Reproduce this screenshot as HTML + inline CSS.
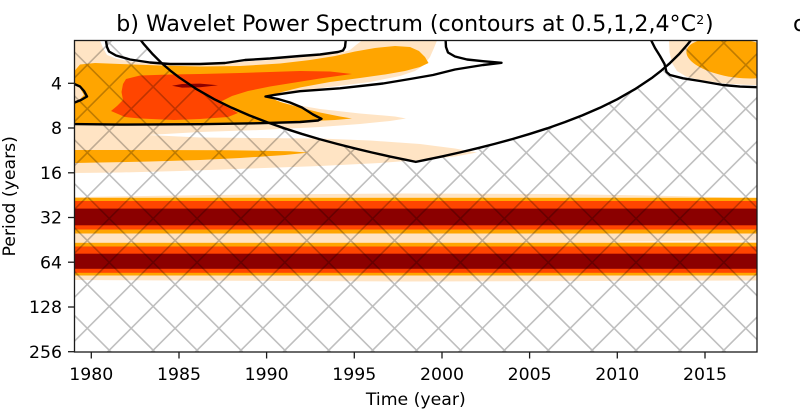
<!DOCTYPE html>
<html>
<head>
<meta charset="utf-8">
<style>
html,body{margin:0;padding:0;background:#fff;}
svg{display:block;}
</style>
</head>
<body>
<svg width="800" height="412" viewBox="0 0 800 412" xmlns="http://www.w3.org/2000/svg" font-family="'DejaVu Sans', 'Liberation Sans', sans-serif">
<defs>
  <clipPath id="ax"><rect x="74.5" y="40.5" width="682.5" height="311.5"/></clipPath>
  <clipPath id="hc"><path d="M74.5,352 L74.5,40.5 L141.4,40.5 L144.1,44.48 L152.9,54.41 L161.6,63.04 L170.4,70.64 L179.2,77.44 L196.7,89.21 L214.2,99.15 L231.8,107.77 L249.3,115.37 L266.8,122.17 L284.4,128.32 L301.9,133.94 L319.4,139.11 L337,143.88 L354.5,148.33 L372,152.5 L389.5,156.41 L407.1,160.1 L415.8,161.87 L424.6,160.1 L442.1,156.41 L459.6,152.5 L477.2,148.33 L494.7,143.88 L512.2,139.11 L529.7,133.94 L547.3,128.32 L564.8,122.17 L582.3,115.37 L599.9,107.77 L617.4,99.15 L634.9,89.21 L652.5,77.44 L661.2,70.64 L670,63.04 L678.8,54.41 L687.5,44.48 L690.3,40.5 L757,40.5 L757,352 Z"/></clipPath>
</defs>
<rect x="0" y="0" width="800" height="412" fill="#ffffff"/>

<g clip-path="url(#ax)">
  <!-- bisque regions -->
  <path fill="#ffe4c4" d="M74.5,40.5 L100,40.5 L103,48 L107,55 L116,58.5 L130,61.5 L150,63.5 L200,65 L225,64 L245,61.5 L270,60 L300,57.5 L338,53.5 L350,50 L356,45 L362,40.5 L437,40.5 L434,48 L430,57 L424,65 L415,71 L400,76 L370,82 L330,87 L300,91 L280,94 L263,97 L285,103 L320,109 L360,113.5 L395,116.5 L406,118.5 L390,121 L360,124 L320,127 L260,130 L200,132 L148,135 L200,137.5 L260,138 L320,138.5 L370,140.5 L420,144 L455,148.5 L477,152.5 L455,156.5 L420,160 L380,163 L320,166 L250,168.5 L180,171 L120,172.5 L74.5,173 Z"/>
  <path fill="#ffe4c4" d="M669,40.5 L669.5,52 L672,63 L677,71 L686,76.5 L700,80 L720,83 L740,84.5 L757,85.3 L757,40.5 Z"/>
  <path fill="#ffe4c4" d="M74.5,197 L250,194.5 L400,193.5 L550,194 L650,195.5 L757,198 L757,280.5 L400,281.5 L74.5,280 Z"/>

  <!-- orange -->
  <path fill="#ffa500" d="M74.5,71 L80,64.5 L95,63 L120,64 L160,65.5 L200,66.5 L240,66 L280,63.5 L310,60 L335,56 L355,51.5 L375,48 L395,46 L410,47 L419,51 L425,57 L428.5,63 L420,67 L405,71 L385,74.5 L360,78 L330,82 L300,87.5 L282,92 L268,97 L282,102.5 L300,107.5 L320,112.5 L340,116.5 L352,118.5 L335,120 L300,121.5 L250,122.5 L180,123.5 L120,123.5 L74.5,124 Z"/>
  <path fill="#ffa500" d="M74.5,150 L150,150 L230,150.3 L290,151.2 L308,152.6 L285,155 L240,158 L200,160 L150,161.5 L100,162.5 L74.5,163 Z"/>
  <ellipse fill="#ffa500" cx="736" cy="58" rx="50" ry="19.5" transform="rotate(8 736 58)"/>
  <rect fill="#ffa500" x="74.5" y="197.8" width="682.5" height="35.7"/>
  <rect fill="#ffa500" x="74.5" y="242.8" width="682.5" height="32.7"/>
  <!-- bump bisque -->
  <path fill="#ffe4c4" d="M74.5,84 L79,86.5 L84,95 L79.5,99.5 L74.5,102 Z"/>
  <!-- thin light stripe between bands on right -->
  <path fill="#fff4ea" d="M620,241.3 L757,240.3 L757,242.3 L620,241.9 Z"/>

  <!-- orangered -->
  <path fill="#ff4500" d="M126,79 L140,75.5 L170,74.5 L200,74 L240,73 L270,72 L300,71 L330,71.5 L352,74 L323,78 L295,82.5 L270,86.5 L248,91 L232,96 L219,102.5 L231,109 L238,113 L228,117 L200,119 L174,120 L140,118.5 L125,117 L111,111 L117,106 L123,100 L121.5,92 L123,84 Z"/>
  <rect fill="#ff4500" x="74.5" y="201" width="682.5" height="28.5"/>
  <rect fill="#ff4500" x="74.5" y="246.5" width="682.5" height="26.3"/>

  <!-- darkred -->
  <path fill="#8b0000" d="M172,85.8 L182,84 L200,83.6 L218,85.3 L200,87.2 L182,87.6 Z"/>
  <rect fill="#8b0000" x="74.5" y="208.6" width="682.5" height="16.7"/>
  <rect fill="#8b0000" x="74.5" y="253.7" width="682.5" height="15.1"/>

  <!-- hatch -->
  <g clip-path="url(#hc)">
    <g opacity="0.25">
      <path fill="none" stroke="#000" stroke-width="1.6" d="M-251.7,360L78.3,30 M-207.8,360L122.2,30 M-163.9,360L166.1,30 M-120,360L210,30 M-76.1,360L253.9,30 M-32.2,360L297.8,30 M11.7,360L341.7,30 M55.6,360L385.6,30 M99.5,360L429.5,30 M143.4,360L473.4,30 M187.3,360L517.3,30 M231.2,360L561.2,30 M275.1,360L605.1,30 M319,360L649,30 M362.9,360L692.9,30 M406.8,360L736.8,30 M450.7,360L780.7,30 M494.6,360L824.6,30 M538.5,360L868.5,30 M582.4,360L912.4,30 M626.3,360L956.3,30 M670.2,360L1000.2,30 M714.1,360L1044.1,30 M758,360L1088,30 M-254.9,30L75.1,360 M-211,30L119,360 M-167.1,30L162.9,360 M-123.2,30L206.8,360 M-79.3,30L250.7,360 M-35.4,30L294.6,360 M8.5,30L338.5,360 M52.4,30L382.4,360 M96.3,30L426.3,360 M140.2,30L470.2,360 M184.1,30L514.1,360 M228,30L558,360 M271.9,30L601.9,360 M315.8,30L645.8,360 M359.7,30L689.7,360 M403.6,30L733.6,360 M447.5,30L777.5,360 M491.4,30L821.4,360 M535.3,30L865.3,360 M579.2,30L909.2,360 M623.1,30L953.1,360 M667,30L997,360 M710.9,30L1040.9,360 M754.8,30L1084.8,360"/>
    </g>
  </g>

  <!-- significance contours -->
  <g fill="none" stroke="#000" stroke-width="2.4" stroke-linejoin="round" stroke-linecap="round">
    <path d="M105.5,38 L107,47 L109,51.5 L116,55.5 L130,59.5 L150,62.5 L170,64 L200,64 L225,63 L235,61.5 L245,60 L270,58.5 L300,56 L320,54.5 L338,52 L343,50.5 L345,47 L346,38"/>
    <path d="M72,124 L120,124.6 L200,124.2 L260,123.2 L300,122 L318,120.5 L321.5,118.8 L313,114.5 L302,107.5 L290,102.5 L278,99 L265.5,96.5 L275,94.8 L300,91.2 L340,88.3 L383,83.5 L410,79 L433,75 L455,69.5 L483,65 L501.5,62.8 L483,61.2 L467,59.5 L455,56.5 L448,52.5 L446,47 L445.5,38"/>
    <path d="M72,83 L80,86.5 L84,91 L87,96.5 L81,100 L72,103.5"/>
    <path d="M650,38 L655,48 L660,56 L664.5,64 L666.5,72 L670,75 L683,78.3 L700,81 L723,85 L740,86.6 L760,87.3"/>
    <!-- cone of influence -->
    <path d="M135.4,32.7 L141.4,41 L144.1,44.48 L152.9,54.41 L161.6,63.04 L170.4,70.64 L179.2,77.44 L196.7,89.21 L214.2,99.15 L231.8,107.77 L249.3,115.37 L266.8,122.17 L284.4,128.32 L301.9,133.94 L319.4,139.11 L337,143.88 L354.5,148.33 L372,152.5 L389.5,156.41 L407.1,160.1 L415.8,161.87 L424.6,160.1 L442.1,156.41 L459.6,152.5 L477.2,148.33 L494.7,143.88 L512.2,139.11 L529.7,133.94 L547.3,128.32 L564.8,122.17 L582.3,115.37 L599.9,107.77 L617.4,99.15 L634.9,89.21 L652.5,77.44 L661.2,70.64 L670,63.04 L678.8,54.41 L687.5,44.48 L690.3,41 L696.3,32.7"/>
  </g>
</g>

<!-- spines -->
<rect x="74.5" y="40.5" width="682.5" height="311.5" fill="none" stroke="#1a1a1a" stroke-width="1.3"/>

<!-- y ticks -->
<g stroke="#1a1a1a" stroke-width="1.3">
  <line x1="68" y1="83.3" x2="74.5" y2="83.3"/>
  <line x1="68" y1="128" x2="74.5" y2="128"/>
  <line x1="68" y1="172.8" x2="74.5" y2="172.8"/>
  <line x1="68" y1="217.5" x2="74.5" y2="217.5"/>
  <line x1="68" y1="262.2" x2="74.5" y2="262.2"/>
  <line x1="68" y1="307" x2="74.5" y2="307"/>
  <line x1="68" y1="351.7" x2="74.5" y2="351.7"/>
  <!-- x ticks -->
  <line x1="91.3" y1="352" x2="91.3" y2="358.5"/>
  <line x1="179" y1="352" x2="179" y2="358.5"/>
  <line x1="266.6" y1="352" x2="266.6" y2="358.5"/>
  <line x1="354.3" y1="352" x2="354.3" y2="358.5"/>
  <line x1="442" y1="352" x2="442" y2="358.5"/>
  <line x1="529.6" y1="352" x2="529.6" y2="358.5"/>
  <line x1="617.3" y1="352" x2="617.3" y2="358.5"/>
  <line x1="705" y1="352" x2="705" y2="358.5"/>
</g>

<g font-size="17.3" fill="#000" text-anchor="end">
  <text x="62" y="89.5">4</text>
  <text x="62" y="134.2">8</text>
  <text x="62" y="179">16</text>
  <text x="62" y="223.7">32</text>
  <text x="62" y="268.4">64</text>
  <text x="62" y="313.2">128</text>
  <text x="62" y="357.9">256</text>
</g>
<g font-size="17.3" fill="#000" text-anchor="middle">
  <text x="91.3" y="380">1980</text>
  <text x="179" y="380">1985</text>
  <text x="266.6" y="380">1990</text>
  <text x="354.3" y="380">1995</text>
  <text x="442" y="380">2000</text>
  <text x="529.6" y="380">2005</text>
  <text x="617.3" y="380">2010</text>
  <text x="705" y="380">2015</text>
  <text x="415.8" y="405">Time (year)</text>
  <text transform="translate(15,196.3) rotate(-90)" x="0" y="0">Period (years)</text>
</g>

<!-- title -->
<text x="116.3" y="31" font-size="22" fill="#000" textLength="579.7" lengthAdjust="spacingAndGlyphs">b) Wavelet Power Spectrum (contours at 0.5,1,2,4°C</text>
<text x="696.3" y="23.8" font-size="12.5" fill="#000">2</text>
<text x="705" y="31" font-size="22" fill="#000">)</text>
<text x="793" y="31" font-size="22" fill="#000">c)</text>
</svg>
</body>
</html>
